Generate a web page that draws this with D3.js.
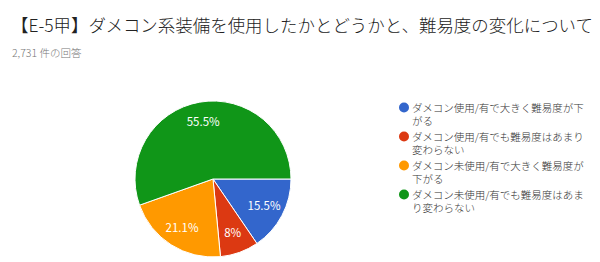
<!DOCTYPE html>
<html>
<head>
<meta charset="utf-8">
<script src="https://cdn.jsdelivr.net/npm/d3@7"></script>
<style>
  body { margin: 0; background: #fff; }
  svg { font-family: "Noto Sans CJK JP", "Noto Sans", sans-serif; }
</style>
</head>
<body>
<svg id="chart" width="600" height="262"></svg>
<script>
// data
const categories = [
  ["ダメコン使用/有で大きく難易度が下", "がる"],
  ["ダメコン使用/有でも難易度はあまり", "変わらない"],
  ["ダメコン未使用/有で大きく難易度が", "下がる"],
  ["ダメコン未使用/有でも難易度はあま", "り変わらない"]
];
const values = [15.5, 8, 21.1, 55.5];
const labels = ["15.5%", "8%", "21.1%", "55.5%"];
const colors = ["#3366cc", "#dc3912", "#ff9900", "#109618"];

const svg = d3.select("#chart");

svg.append("text")
  .attr("x", 11).attr("y", 32)
  .attr("font-size", 17.5).attr("font-weight", 300).attr("fill", "#222")
  .attr("textLength", 582).attr("lengthAdjust", "spacingAndGlyphs")
  .text("【E-5甲】ダメコン系装備を使用したかとどうかと、難易度の変化について");

svg.append("text")
  .attr("x", 12).attr("y", 57)
  .attr("font-size", 10.5).attr("font-weight", 300).attr("fill", "#777")
  .text("2,731 件の回答");

let cx = 213, cy = 179, r = 78;

let pie = d3.pie().sort(null)
  .startAngle(Math.PI / 2).endAngle(Math.PI / 2 + 2 * Math.PI);
let arc = d3.arc().innerRadius(0).outerRadius(r);
let labelArc = d3.arc().innerRadius(r * 0.74).outerRadius(r * 0.74);

let g = svg.append("g").attr("transform", "translate(" + cx + "," + cy + ")");
let arcs = pie(values);

g.selectAll("path").data(arcs).enter().append("path")
  .attr("d", arc)
  .attr("fill", (d, i) => colors[i])
  .attr("stroke", "#fff").attr("stroke-width", 1);

g.selectAll("text.lbl").data(arcs).enter().append("text")
  .attr("class", "lbl")
  .attr("transform", d => "translate(" + labelArc.centroid(d) + ")")
  .attr("text-anchor", "middle").attr("dy", "0.35em")
  .attr("font-size", 11.5).attr("fill", "#fff")
  .text((d, i) => labels[i]);

// legend
let legendY = [107.5, 136.5, 165.5, 194.5];
let lg = svg.append("g");
categories.forEach((c, i) => {
  lg.append("circle").attr("cx", 404).attr("cy", legendY[i]).attr("r", 5).attr("fill", colors[i]);
  c.forEach((line, j) => {
    lg.append("text")
      .attr("x", 412).attr("y", legendY[i] + 4 + j * 13.5)
      .attr("font-size", 10.5).attr("font-weight", 300).attr("fill", "#333")
      .text(line);
  });
});
</script>
</body>
</html>
